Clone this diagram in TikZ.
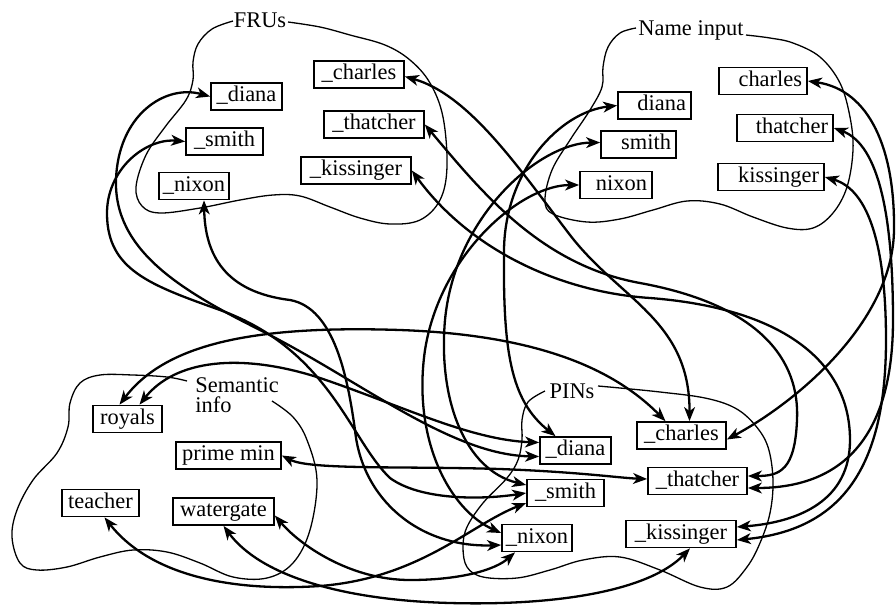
\documentclass[tikz,border=0pt]{standalone}
\usepackage{fontspec}
\setmainfont{Liberation Serif}
\usetikzlibrary{arrows.meta}
\begin{document}
\begin{tikzpicture}[x=0.5pt,y=-0.5pt,
  unitfont/.style={font=\fontsize{11.2}{13}\selectfont},
  unit/.style={draw, line width=0.85pt, minimum height=13.5pt, inner sep=0pt,
    text height=7.8pt, text depth=2.4pt, unitfont, minimum width=#1},
  nameunit/.style={draw, line width=0.85pt, minimum height=13.5pt, inner ysep=0pt,
    inner xsep=2.5pt, text height=7.8pt, text depth=2.4pt, unitfont,
    text width=#1, align=right},
  pool/.style={line width=0.65pt},
  poollabel/.style={unitfont, inner sep=1pt},
  tip/.tip={Stealth[length=7pt,width=5.4pt,inset=2pt]},
  link/.style={line width=1.15pt, tip-tip}
]
\fill[white] (0,0) rectangle (896,607);
\useasboundingbox (0,0) rectangle (896,607);

% ---- pool outlines ----
\node[poollabel] (frulbl) at (260,20) {FRUs};
\node[poollabel] (namelbl) at (691,30) {Name input};
\node[poollabel, anchor=west, align=left, font=\fontsize{11.2}{10}\selectfont] (semlbl) at (193,395) {Semantic\\info};
\node[poollabel] (pinlbl) at (572,391) {PINs};

\draw[pool] plot[smooth, tension=0.6] coordinates {(233,21) (212,29) (198,44) (193,62) (193,80) (186,100) (165,127) (146,155) (136,187) (142,206) (160,213) (200,208) (240,200) (273,195) (300,196) (330,207) (360,218) (390,224) (420,220) (440,200) (447,167) (443,117) (430,83) (410,60) (385,45) (350,35) (320,27) (288,22)};

\draw[pool] plot[smooth, tension=0.6] coordinates {(636,28) (620,33) (608,47) (603,67) (602,87) (590,110) (570,140) (552,170) (545,200) (553,214) (587,222) (620,219) (653,210) (687,201) (720,204) (753,217) (787,228) (813,228) (833,213) (847,187) (853,150) (850,117) (840,83) (820,57) (793,43) (770,38) (746,35)};

\draw[pool] plot[smooth, tension=0.6] coordinates {(187,381) (167,377) (133,375) (100,375) (80,383) (70,403) (68,427) (57,453) (33,480) (17,510) (12,537) (20,563) (37,570) (67,567) (100,557) (133,550) (167,552) (200,563) (233,577) (267,578) (293,563) (310,530) (317,480) (307,440) (293,417) (272,401)};

\draw[pool] plot[smooth, tension=0.6] coordinates {(545,391) (528,402) (522,420) (522,440) (518,460) (507,478) (483,503) (467,527) (463,547) (467,567) (483,577) (517,578) (550,570) (583,560) (620,557) (660,570) (700,587) (727,587) (747,567) (760,543) (770,513) (773,480) (768,447) (755,425) (735,408) (705,398) (660,392) (620,388) (598,386)};

% ---- face recognition units ----
\node[unit=45pt] (fch) at (359,74.5) {\_charles};
\node[unit=35.5pt] (fdi) at (246.5,96.5) {\_diana};
\node[unit=50pt] (fth) at (374,124.5) {\_thatcher};
\node[unit=38.5pt] (fsm) at (224.5,141.5) {\_smith};
\node[unit=55pt] (fki) at (356,170.5) {\_kissinger};
\node[unit=35pt] (fni) at (194,186) {\_nixon};

% ---- name input units ----
\node[nameunit=39pt] (nch) at (763,81) {charles};
\node[nameunit=31.5pt] (ndi) at (654.5,105.5) {diana};
\node[nameunit=43pt] (nth) at (785,128) {thatcher};
\node[nameunit=32.5pt] (nsm) at (638.5,144.5) {smith};
\node[nameunit=48pt] (nki) at (771,177) {kissinger};
\node[nameunit=31pt] (nni) at (616,185) {nixon};

% ---- semantic information units ----
\node[unit=34.5pt] (sro) at (127.5,419) {royals};
\node[unit=52.5pt] (spm) at (228.5,455.5) {prime min};
\node[unit=38.5pt] (ste) at (100.5,503) {teacher};
\node[unit=50.5pt] (swa) at (223.5,511.5) {watergate};

% ---- person identity nodes ----
\node[unit=35.5pt] (pdi) at (575.5,450.5) {\_diana};
\node[unit=44.5pt] (pch) at (681.5,435.5) {\_charles};
\node[unit=49.5pt] (pth) at (697.5,481) {\_thatcher};
\node[unit=38.5pt] (psm) at (565.5,493) {\_smith};
\node[unit=35pt] (pni) at (537,538) {\_nixon};
\node[unit=55pt] (pki) at (681,534) {\_kissinger};

% ---- FRU <-> PIN ----
\draw[link] (fdi.west) .. controls (165,84) and (118,115) .. (116,180)
  .. controls (114,250) and (180,290) .. (260,330)
  .. controls (360,380) and (450,455) .. ([yshift=-3pt]pdi.west);
\draw[link] (fsm.west) .. controls (145,138) and (106,170) .. (107,215)
  .. controls (108,270) and (150,285) .. (220,310)
  .. controls (330,350) and (350,440) .. (390,478)
  .. controls (420,500) and (480,500) .. (psm.west);
\draw[link] ([xshift=5pt]fni.south) .. controls (205,255) and (225,292) .. (290,300)
  .. controls (335,308) and (348,380) .. (355,430)
  .. controls (362,500) and (420,548) .. ([yshift=-3.5pt]pni.west);
\draw[link] ([yshift=-1pt]fch.east) .. controls (470,95) and (520,170) .. (570,235)
  .. controls (620,300) and (690,320) .. ([xshift=4pt]pch.north);
\draw[link] (fth.east) .. controls (480,190) and (540,265) .. (640,283)
  .. controls (760,305) and (800,360) .. (797,420)
  .. controls (795,470) and (780,476) .. ([yshift=2.5pt]pth.east);
\draw[link] (fki.east) .. controls (470,250) and (560,292) .. (650,298)
  .. controls (780,308) and (850,360) .. (850,440)
  .. controls (850,500) and (800,522) .. ([yshift=3.5pt]pki.east);

% ---- name input <-> PIN ----
\draw[link] (ndi.west) .. controls (560,112) and (505,170) .. (504,250)
  .. controls (503,350) and (510,400) .. ([xshift=-10pt]pdi.north);
\draw[link] ([yshift=1pt]nsm.west) .. controls (540,143) and (455,215) .. (445,320)
  .. controls (438,400) and (465,470) .. ([yshift=4pt]psm.west);
\draw[link] (nni.west) .. controls (520,185) and (440,255) .. (425,350)
  .. controls (412,440) and (450,510) .. ([yshift=2.5pt]pni.west);
\draw[link] (nch.east) .. controls (870,90) and (895,150) .. (894,230)
  .. controls (893,320) and (800,400) .. ([yshift=-2pt]pch.east);
\draw[link] (nth.east) .. controls (880,145) and (893,220) .. (893,320)
  .. controls (893,440) and (840,488) .. ([yshift=-3.5pt]pth.east);
\draw[link] (nki.east) .. controls (870,190) and (886,250) .. (886,340)
  .. controls (886,470) and (840,530) .. ([yshift=-3pt]pki.east);

% ---- semantic <-> PIN ----
\draw[link] ([xshift=-4pt]sro.north) .. controls (165,345) and (250,325) .. (400,330)
  .. controls (540,335) and (615,370) .. ([xshift=-8pt]pch.north);
\draw[link] ([xshift=6pt]sro.north) .. controls (175,360) and (240,352) .. (320,378)
  .. controls (400,405) and (470,440) .. ([yshift=4pt]pdi.west);
\draw[link] (spm.east) .. controls (310,470) and (400,466) .. (500,469)
  .. controls (580,472) and (620,478) .. ([yshift=1pt]pth.west);
\draw[link] ([xshift=2pt]ste.south) .. controls (150,575) and (230,592) .. (320,586)
  .. controls (420,578) and (470,525) .. ([yshift=-5pt]psm.west);
\draw[link] ([yshift=-2pt]swa.east) .. controls (300,545) and (350,580) .. (410,580)
  .. controls (460,580) and (495,570) .. ([xshift=-11pt]pni.south);
\draw[link] (swa.south) .. controls (260,575) and (340,600) .. (450,603)
  .. controls (560,606) and (650,590) .. ([xshift=4.5pt]pki.south);
\end{tikzpicture}
\end{document}
